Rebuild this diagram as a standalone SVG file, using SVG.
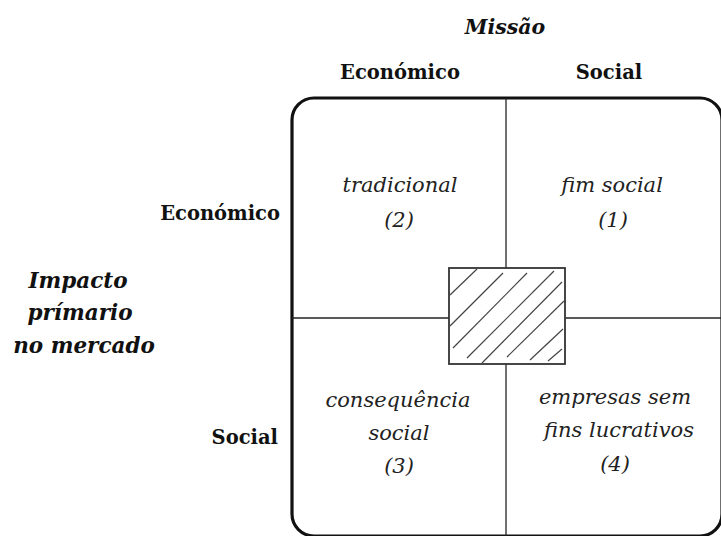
<svg xmlns="http://www.w3.org/2000/svg" width="721" height="536" viewBox="0 0 721 536">
<defs>
<style>
.ln{stroke:#222;stroke-width:1.3;fill:none}
.h{stroke:#444;stroke-width:1.2}
</style>
</defs>
<rect width="721" height="536" fill="#fff"/>
<g id="titles" font-family="DejaVu Serif, serif" fill="#111">
<text x="505" y="34" text-anchor="middle" font-weight="bold" font-style="italic" font-size="20.5">Missão</text>
<text x="400" y="79" text-anchor="middle" font-weight="bold" font-size="19.5">Económico</text>
<text x="609" y="79" text-anchor="middle" font-weight="bold" font-size="19.5">Social</text>
<text x="280" y="220" text-anchor="end" font-weight="bold" font-size="19.5">Económico</text>
<text x="278" y="444" text-anchor="end" font-weight="bold" font-size="19.5">Social</text>
<g font-weight="bold" font-style="italic" font-size="21.5" text-anchor="middle">
<text x="78" y="288">Impacto</text>
<text x="80" y="320">prímario</text>
<text x="84" y="353">no mercado</text>
</g>
</g>
<g id="frame">
<rect x="292" y="98" width="430" height="438" rx="22" fill="none" stroke="#111" stroke-width="3.2"/>
</g>
<g id="connectors">
<line class="ln" x1="506" y1="98" x2="506" y2="268"/>
<line class="ln" x1="506" y1="364" x2="506" y2="536"/>
<line class="ln" x1="292" y1="318" x2="449" y2="318"/>
<line class="ln" x1="565" y1="318" x2="721" y2="318"/>
</g>
<g id="center">
<rect x="449" y="268" width="116" height="96" fill="#fff" stroke="#333" stroke-width="1.8"/>
<line class="h" x1="450" y1="295" x2="477" y2="269"/>
<line class="h" x1="450" y1="326" x2="503" y2="273"/>
<line class="h" x1="453" y1="348" x2="527" y2="273"/>
<line class="h" x1="467" y1="358" x2="554" y2="271"/>
<line class="h" x1="482" y1="363" x2="562" y2="282"/>
<line class="h" x1="507" y1="357" x2="564" y2="301"/>
<line class="h" x1="530" y1="360" x2="563" y2="329"/>
<line class="h" x1="548" y1="361" x2="562" y2="349"/>
</g>
<g font-family="DejaVu Serif, serif" font-style="italic" font-size="21" fill="#222" text-anchor="middle">
<g id="q2">
<text x="400" y="192">tradicional</text>
<text x="399" y="227">(2)</text>
</g>
<g id="q1">
<text x="612" y="192">fim social</text>
<text x="613" y="227">(1)</text>
</g>
<g id="q3">
<text x="398" y="407">consequência</text>
<text x="399" y="440">social</text>
<text x="399" y="473">(3)</text>
</g>
<g id="q4">
<text x="615" y="404">empresas sem</text>
<text x="619" y="437">fins lucrativos</text>
<text x="615" y="471">(4)</text>
</g>
</g>
</svg>
